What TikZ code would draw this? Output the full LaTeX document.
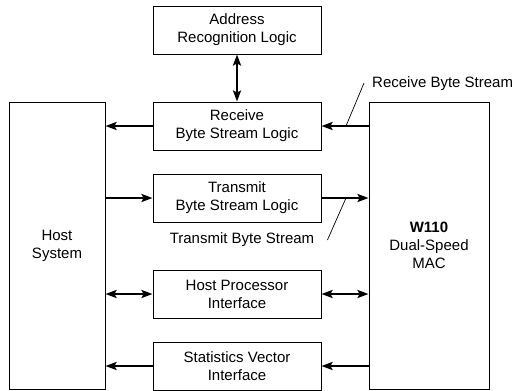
\documentclass[tikz,border=0pt]{standalone}
\usepackage{fontspec}
\setmainfont{Liberation Sans}
\usetikzlibrary{arrows.meta}
\begin{document}
\begin{tikzpicture}[x=1pt,y=-1pt,
  box/.style={draw,line width=1pt,align=center,inner sep=0pt,font=\fontsize{15}{18}\selectfont},
  mid/.style={box,minimum width=168pt,minimum height=48pt},
  big/.style={box,minimum height=287pt},
  flow/.style={line width=2pt,-{Stealth[length=11pt,width=8pt,inset=2pt]}},
  flow2/.style={line width=2pt,{Stealth[length=11pt,width=8pt,inset=2pt]}-{Stealth[length=11pt,width=8pt,inset=2pt]}},
  lbl/.style={font=\fontsize{15}{18}\selectfont,inner sep=0pt},
  thin/.style={line width=0.7pt}]
\useasboundingbox (0,0) rectangle (520,391);
\node[big,minimum width=96pt] (host) at (57,245.5) {Host\\System};
\node[big,minimum width=120pt] (mac) at (429,245.5) {\textbf{W110}\\Dual-Speed\\MAC};
\node[mid] (addr) at (237,30) {Address\\Recognition Logic};
\node[mid] (recv) at (237,126) {Receive\\Byte Stream Logic};
\node[mid] (trans) at (237,198) {Transmit\\Byte Stream Logic};
\node[mid] (hpi) at (237,294) {Host Processor\\Interface};
\node[mid] (stat) at (237,366) {Statistics Vector\\Interface};
\draw[flow2] (addr.south) -- (recv.north);
\draw[flow] (recv.west) -- (recv.west -| host.east);
\draw[flow] (recv.east -| mac.west) -- (recv.east);
\draw[flow] (trans.west -| host.east) -- (trans.west);
\draw[flow] (trans.east) -- (trans.east -| mac.west);
\draw[flow2] (hpi.west -| host.east) -- (hpi.west);
\draw[flow2] (hpi.east) -- (hpi.east -| mac.west);
\draw[flow] (stat.east -| mac.west) -- (stat.east);
\draw[flow] (stat.west) -- (stat.west -| host.east);
\node[lbl,anchor=west] (rbs) at (372,84) {Receive Byte Stream};
\node[lbl] (tbs) at (242,240) {Transmit Byte Stream};
\coordinate (rbsend) at (346,126);
\coordinate (tbsend) at (346,198);
\draw[thin] ([xshift=-8pt,yshift=1pt]rbs.west) -- (rbsend);
\draw[thin] ([xshift=13pt]tbs.east) -- (tbsend);
\end{tikzpicture}
\end{document}
